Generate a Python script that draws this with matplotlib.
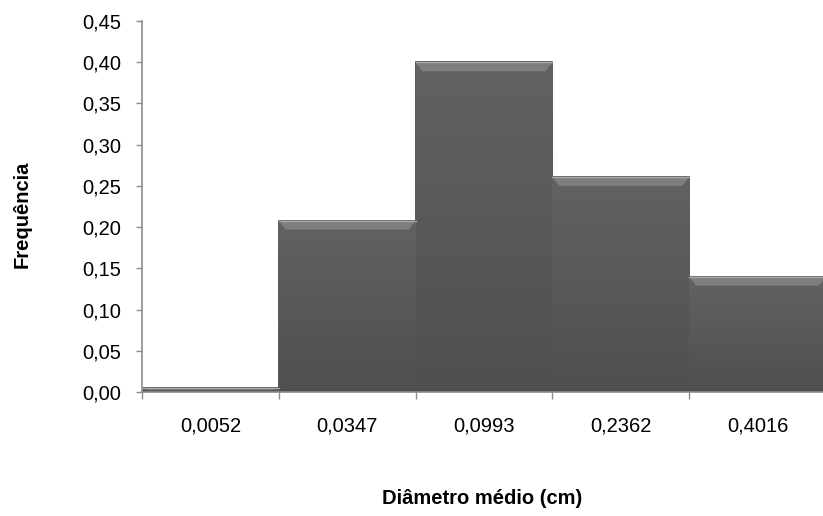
import numpy as np
from matplotlib import pyplot as plt
from matplotlib.colors import LinearSegmentedColormap
from matplotlib.ticker import FuncFormatter, MultipleLocator

categories = ['0,0052', '0,0347', '0,0993', '0,2362', '0,4016']
frequencies = [0.005, 0.208, 0.400, 0.261, 0.140]

plt.rcParams['font.family'] = ['Liberation Sans', 'DejaVu Sans']

fig = plt.figure(figsize=(8.23, 5.16), dpi=100)
ax = fig.add_axes([142 / 823, 1 - 392 / 516, 684 / 823, 371 / 516])

xx = np.arange(len(categories))
bars = ax.bar(xx, frequencies, 1.0, color='#555555', edgecolor='#3c3c3c',
              linewidth=1.2, zorder=2)

# soft vertical gradient + bevel on top of each bar
grad = np.linspace(0, 1, 100).reshape(-1, 1)
cmap = LinearSegmentedColormap.from_list('g', ['#4f4f4f', '#626262'])
for b in bars:
    x0, w, h = b.get_x(), b.get_width(), b.get_height()
    im = ax.imshow(grad, extent=(x0, x0 + w, 0, h), aspect='auto',
                   cmap=cmap, origin='lower', zorder=2.5)
    im.set_clip_path(b)
    bev = min(0.011, h * 0.5)
    ax.fill([x0, x0 + w, x0 + w - 0.05, x0 + 0.05],
            [h, h, h - bev, h - bev], color='#7e7e7e', zorder=3, lw=0)
    ax.plot([x0, x0 + w], [h, h], color='#a8a8a8', lw=1.0, zorder=3.5)

ax.set_xlim(-0.5, len(categories) - 0.5)
ax.set_ylim(0, 0.45)
ax.yaxis.set_major_locator(MultipleLocator(0.05))
ax.yaxis.set_major_formatter(FuncFormatter(lambda v, p: f'{v:.2f}'.replace('.', ',')))

ax.set_xticks(xx - 0.5, minor=False)
ax.set_xticklabels([])
ax.set_xticks(xx, minor=True)
ax.set_xticklabels(categories, minor=True)
ax.tick_params(axis='x', which='major', length=5, color='#8c8c8c', width=1)
ax.tick_params(axis='x', which='minor', length=0, pad=18, labelsize=14.5)
ax.tick_params(axis='y', length=4, color='#8c8c8c', width=1, labelsize=14.5, pad=11)

for s in ['top', 'right']:
    ax.spines[s].set_visible(False)
for s in ['left', 'bottom']:
    ax.spines[s].set_color('#8c8c8c')
    ax.spines[s].set_linewidth(1.2)

fig.text(482 / 823, 1 - 498 / 516, 'Diâmetro médio (cm)', ha='center', va='center',
         fontsize=14.5, fontweight='bold')
fig.text(22 / 823, 1 - 214 / 516, 'Frequência', ha='center', va='center',
         rotation=90, fontsize=14.5, fontweight='bold')

fig.savefig('out.png', dpi=100)
